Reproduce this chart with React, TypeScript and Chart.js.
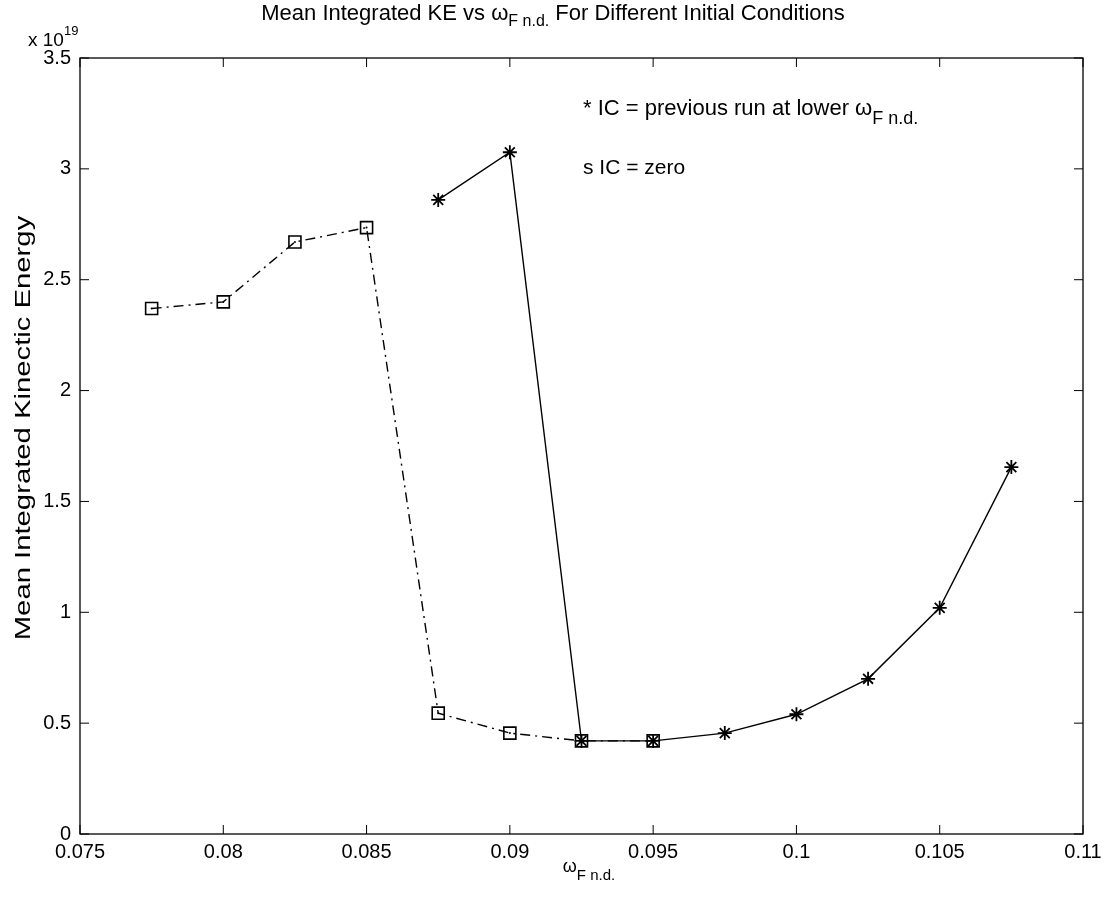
import React, { useEffect, useRef } from "react";
import { Chart, registerables } from "chart.js";

Chart.register(...registerables);

// Axis ticks
const xTickValues = [0.075, 0.08, 0.085, 0.09, 0.095, 0.1, 0.105, 0.11];
const xTickLabels = ["0.075", "0.08", "0.085", "0.09", "0.095", "0.1", "0.105", "0.11"];
const yTickValues = [0, 0.5, 1, 1.5, 2, 2.5, 3, 3.5];
const yTickLabels = ["0", "0.5", "1", "1.5", "2", "2.5", "3", "3.5"];

// Mean integrated kinetic energy (x 10^19), initial condition = zero
const zeroIcFreq = [0.0775, 0.08, 0.0825, 0.085, 0.0875, 0.09, 0.0925, 0.095];
const zeroIcKE = [2.37, 2.4, 2.67, 2.735, 0.545, 0.455, 0.42, 0.42];

// Mean integrated kinetic energy (x 10^19), initial condition = previous run
const prevIcFreq = [0.0875, 0.09, 0.0925, 0.095, 0.0975, 0.1, 0.1025, 0.105, 0.1075];
const prevIcKE = [2.86, 3.075, 0.42, 0.42, 0.455, 0.54, 0.7, 1.02, 1.655];

const FONT = '"Liberation Sans", Arial, Helvetica, sans-serif';

type Seg = { t: string; size: number; dy?: number };

function segWidth(ctx: CanvasRenderingContext2D, segs: Seg[]) {
  let w = 0;
  for (const s of segs) {
    ctx.font = `${s.size}px ${FONT}`;
    w += ctx.measureText(s.t).width;
  }
  return w;
}

function drawSegs(ctx: CanvasRenderingContext2D, segs: Seg[], x: number, y: number, align: "left" | "center") {
  ctx.save();
  ctx.fillStyle = "#000";
  ctx.textBaseline = "alphabetic";
  ctx.textAlign = "left";
  let cx = align === "center" ? x - segWidth(ctx, segs) / 2 : x;
  for (const s of segs) {
    ctx.font = `${s.size}px ${FONT}`;
    ctx.fillText(s.t, cx, y + (s.dy || 0));
    cx += ctx.measureText(s.t).width;
  }
  ctx.restore();
}

const axesPlugin = {
  id: "matlabAxes",
  afterDraw(chart: any) {
    const ctx: CanvasRenderingContext2D = chart.ctx;
    const { left, right, top, bottom } = chart.chartArea;
    const xs = chart.scales.x;
    const ys = chart.scales.y;
    const tick = 9;

    ctx.save();
    ctx.strokeStyle = "#000";
    ctx.lineWidth = 1.3;
    ctx.strokeRect(left, top, right - left, bottom - top);

    ctx.beginPath();
    xTickValues.forEach((v) => {
      const px = xs.getPixelForValue(v);
      ctx.moveTo(px, bottom);
      ctx.lineTo(px, bottom - tick);
      ctx.moveTo(px, top);
      ctx.lineTo(px, top + tick);
    });
    yTickValues.forEach((v) => {
      const py = ys.getPixelForValue(v);
      ctx.moveTo(left, py);
      ctx.lineTo(left + tick, py);
      ctx.moveTo(right, py);
      ctx.lineTo(right - tick, py);
    });
    ctx.lineWidth = 1;
    ctx.stroke();

    // tick labels
    ctx.fillStyle = "#000";
    ctx.font = `20px ${FONT}`;
    ctx.textAlign = "center";
    ctx.textBaseline = "top";
    xTickValues.forEach((v, i) => {
      ctx.fillText(xTickLabels[i], xs.getPixelForValue(v), bottom + 8);
    });
    ctx.textAlign = "right";
    ctx.textBaseline = "middle";
    yTickValues.forEach((v, i) => {
      ctx.fillText(yTickLabels[i], left - 9, ys.getPixelForValue(v));
    });
    ctx.restore();

    // exponent marker
    drawSegs(ctx, [{ t: "x 10", size: 19 }, { t: "19", size: 13, dy: -11 }], 28, 46, "left");

    // title
    drawSegs(
      ctx,
      [
        { t: "Mean Integrated KE vs ", size: 22 },
        { t: "\u03c9", size: 22 },
        { t: "F n.d.", size: 16, dy: 6 },
        { t: " For Different Initial Conditions", size: 22 },
      ],
      553,
      20,
      "center"
    );

    // x axis label
    drawSegs(ctx, [{ t: "\u03c9", size: 18 }, { t: "F n.d.", size: 15, dy: 8 }], 589, 872, "center");

    // y axis label, drawn stretched along its length
    ctx.save();
    ctx.translate(30, 428);
    ctx.rotate(-Math.PI / 2);
    ctx.scale(1.33, 1);
    ctx.fillStyle = "#000";
    ctx.font = `22px ${FONT}`;
    ctx.textAlign = "center";
    ctx.textBaseline = "alphabetic";
    ctx.fillText("Mean Integrated Kinectic Energy", 0, 0);
    ctx.restore();

    // annotations
    drawSegs(
      ctx,
      [
        { t: "* IC = previous run at lower ", size: 22 },
        { t: "\u03c9", size: 22 },
        { t: "F n.d.", size: 18, dy: 9 },
      ],
      583,
      115,
      "left"
    );
    drawSegs(ctx, [{ t: "s IC = zero", size: 21 }], 583, 174, "left");
  },
};

export default function App() {
  const ref = useRef<HTMLCanvasElement | null>(null);

  useEffect(() => {
    if (!ref.current) return;
    const zeroPts = zeroIcFreq.map((x, i) => ({ x, y: zeroIcKE[i] }));
    const prevPts = prevIcFreq.map((x, i) => ({ x, y: prevIcKE[i] }));
    const chart = new Chart(ref.current, {
      type: "line",
      data: {
        datasets: [
          {
            label: "IC = zero",
            data: zeroPts,
            borderColor: "#000",
            borderWidth: 1.4,
            borderDash: [10, 5, 2, 5],
            pointStyle: "rect",
            pointRadius: 8.5,
            pointBorderWidth: 1.6,
            pointBorderColor: "#000",
            pointBackgroundColor: "rgba(0,0,0,0)",
            fill: false,
            tension: 0,
          },
          {
            label: "IC = zero centre",
            data: zeroPts,
            showLine: false,
            pointStyle: "circle",
            pointRadius: 1,
            pointBorderWidth: 0,
            pointBackgroundColor: "#000",
          },
          {
            label: "IC = previous run",
            data: prevPts,
            borderColor: "#000",
            borderWidth: 1.4,
            pointStyle: "star",
            pointRadius: 7,
            pointBorderWidth: 1.8,
            pointBorderColor: "#000",
            pointBackgroundColor: "#000",
            fill: false,
            tension: 0,
          },
        ],
      },
      options: {
        responsive: false,
        animation: false,
        layout: { padding: { left: 72, right: 23, top: 58, bottom: 57 } },
        plugins: {
          legend: { display: false },
          tooltip: { enabled: false },
          title: { display: false },
        },
        scales: {
          x: {
            type: "linear",
            min: 0.075,
            max: 0.11,
            ticks: { display: false },
            grid: { display: false },
            border: { display: false },
          },
          y: {
            type: "linear",
            min: 0,
            max: 3.5,
            ticks: { display: false },
            grid: { display: false },
            border: { display: false },
          },
        },
      },
      plugins: [axesPlugin],
    });
    return () => chart.destroy();
  }, []);

  return (
    <div style={{ position: "absolute", left: 0, top: 0, width: 1106, height: 899, background: "#fff" }}>
      <canvas ref={ref} width={1106} height={899} />
    </div>
  );
}
